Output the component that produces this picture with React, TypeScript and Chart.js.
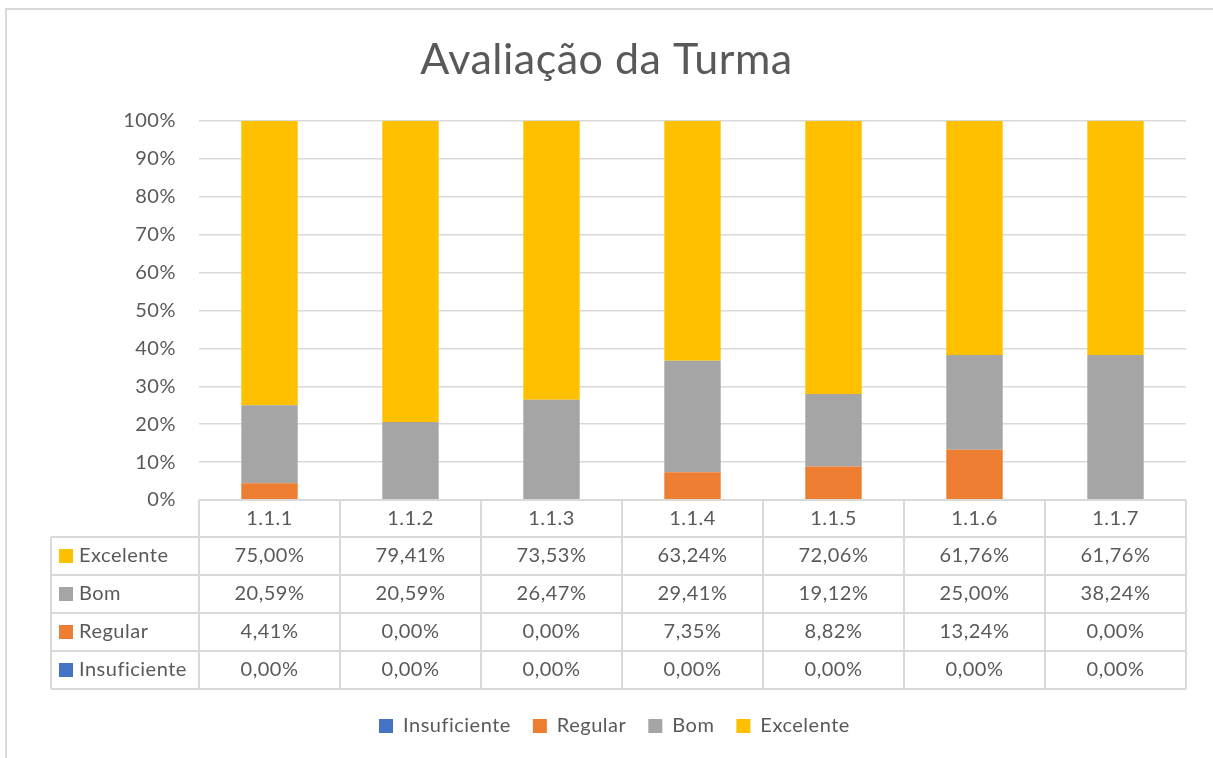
import React, { useEffect, useRef } from "react";
import { Chart, registerables } from "chart.js";

Chart.register(...registerables);

const categories = ["1.1.1", "1.1.2", "1.1.3", "1.1.4", "1.1.5", "1.1.6", "1.1.7"];
const insuficiente = [0, 0, 0, 0, 0, 0, 0];
const regular = [4.41, 0, 0, 7.35, 8.82, 13.24, 0];
const bom = [20.59, 20.59, 26.47, 29.41, 19.12, 25.0, 38.24];
const excelente = [75.0, 79.41, 73.53, 63.24, 72.06, 61.76, 61.76];
const seriesNames = ["Insuficiente", "Regular", "Bom", "Excelente"];
const seriesColors = ["#4472C4", "#ED7D31", "#A5A5A5", "#FFC000"];

const FONT = "Lato";
const FS = 20;
const TEXT = "#595959";
const LINE = "#D9D9D9";

const fmt = (v: number) => v.toFixed(2).replace(".", ",") + "%";

const spacingPlugin = {
  id: "spacing",
  beforeDraw(chart: any) {
    (chart.ctx as any).letterSpacing = "0.5px";
  },
};

const tablePlugin = {
  id: "dataTable",
  afterDraw(chart: any) {
    const ctx = chart.ctx;
    const area = chart.chartArea;
    const x = chart.scales.x;
    const n = categories.length;
    const colW = (area.right - area.left) / n;
    const headerH = 37;
    const rowH = 38;
    const labelLeft = 51;
    const top = area.bottom;
    const rowsTop = top + headerH;
    const datasets = chart.data.datasets;
    const order = [3, 2, 1, 0];
    const tableBottom = rowsTop + rowH * order.length;

    ctx.save();
    ctx.strokeStyle = LINE;
    ctx.lineWidth = 2;
    ctx.beginPath();
    ctx.moveTo(6, 760);
    ctx.lineTo(6, 9);
    ctx.lineTo(1215, 9);
    ctx.stroke();

    ctx.beginPath();
    ctx.moveTo(area.left, top);
    ctx.lineTo(area.right, top);
    for (let r = 0; r <= order.length; r++) {
      const y = rowsTop + r * rowH;
      ctx.moveTo(labelLeft, y);
      ctx.lineTo(area.right, y);
    }
    for (let i = 0; i <= n; i++) {
      const xx = area.left + i * colW;
      ctx.moveTo(xx, top);
      ctx.lineTo(xx, tableBottom);
    }
    ctx.moveTo(labelLeft, rowsTop);
    ctx.lineTo(labelLeft, tableBottom);
    ctx.stroke();

    ctx.font = `${FS}px ${FONT}`;
    ctx.letterSpacing = "0.5px";
    ctx.textBaseline = "middle";
    order.forEach((di, r) => {
      const ds = datasets[di];
      const cy = rowsTop + r * rowH + rowH / 2;
      ctx.fillStyle = ds.backgroundColor;
      ctx.fillRect(59, cy - 7, 14, 14);
      ctx.fillStyle = TEXT;
      ctx.textAlign = "left";
      ctx.fillText(ds.label, 79, cy);
      ctx.textAlign = "center";
      ds.data.forEach((v: number, i: number) => {
        ctx.fillText(fmt(v), x.getPixelForValue(i), cy);
      });
    });
    ctx.restore();
  },
};

export default function App() {
  const ref = useRef<HTMLCanvasElement>(null);

  useEffect(() => {
    document.body.style.margin = "0";
    const seriesData = [insuficiente, regular, bom, excelente];
    const chart = new Chart(ref.current as HTMLCanvasElement, {
      type: "bar",
      data: {
        labels: categories,
        datasets: seriesNames.map((name, i) => ({
          label: name,
          data: seriesData[i],
          backgroundColor: seriesColors[i],
          borderWidth: 0,
          barPercentage: 0.4,
          categoryPercentage: 1,
        })),
      },
      options: {
        responsive: false,
        animation: false,
        layout: { padding: { top: 0, left: 0, right: 0, bottom: 12 } },
        plugins: {
          title: {
            display: true,
            text: "Avaliação da Turma",
            color: TEXT,
            font: { family: FONT, size: 43, weight: "normal" },
            padding: { top: 34, bottom: 35.4 },
          },
          legend: {
            position: "bottom",
            labels: {
              boxWidth: 14,
              boxHeight: 14,
              padding: 22,
              color: TEXT,
              font: { family: FONT, size: FS },
            },
          },
          tooltip: { enabled: false },
        },
        scales: {
          x: {
            stacked: true,
            grid: { display: false },
            border: { display: false },
            ticks: { color: TEXT, font: { family: FONT, size: FS }, padding: -1 },
            afterFit: (s: any) => {
              s.height = 194;
            },
          },
          y: {
            stacked: true,
            min: 0,
            max: 100,
            grid: { color: LINE, lineWidth: 1.5, drawTicks: false },
            border: { display: false },
            ticks: {
              stepSize: 10,
              padding: 23,
              color: TEXT,
              font: { family: FONT, size: FS },
              callback: (v: any) => v + "%",
            },
            afterFit: (s: any) => {
              s.width = 199;
            },
          },
          yRight: {
            type: "linear",
            position: "right",
            display: true,
            grid: { display: false },
            border: { display: false },
            ticks: { display: false },
            afterFit: (s: any) => {
              s.width = 27;
            },
          },
        },
      },
      plugins: [spacingPlugin, tablePlugin],
    });
    return () => chart.destroy();
  }, []);

  return (
    <div style={{ position: "absolute", left: 0, top: 0, width: 1213, height: 758, background: "#fff" }}>
      <canvas ref={ref} width={1213} height={758} />
    </div>
  );
}
